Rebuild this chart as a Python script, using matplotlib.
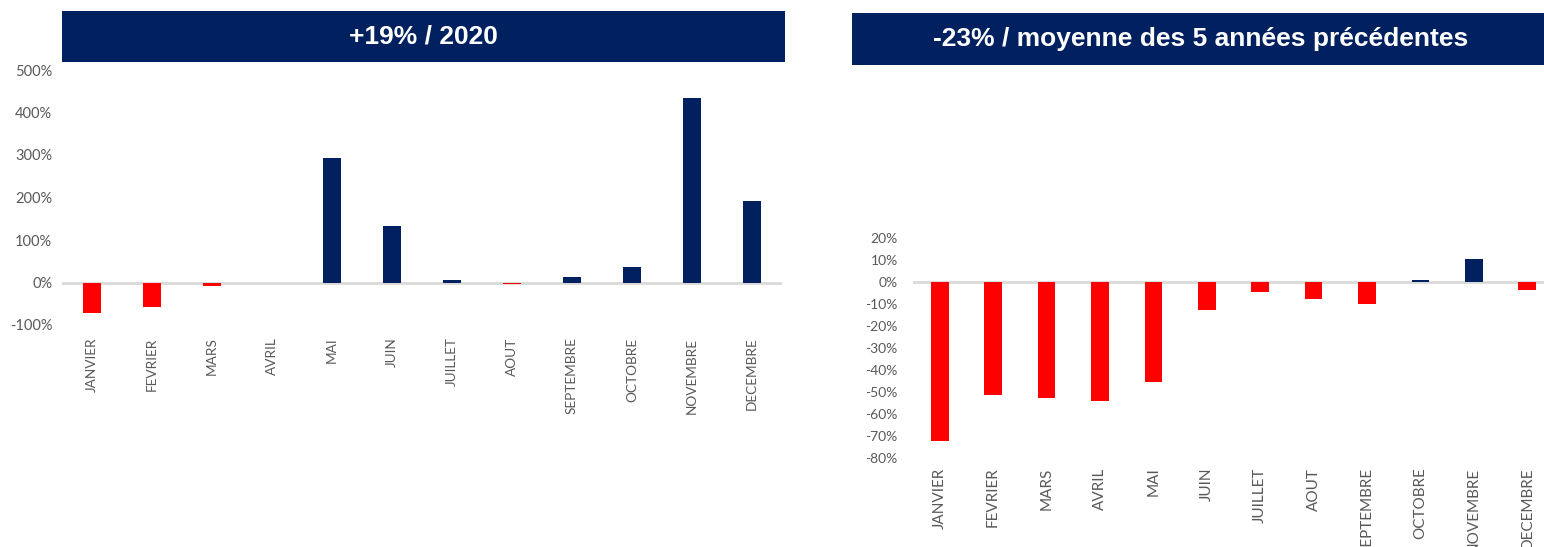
import matplotlib.pyplot as plt
from matplotlib.patches import Rectangle

# Monthly change figures, in percent
months = ['JANVIER', 'FEVRIER', 'MARS', 'AVRIL', 'MAI', 'JUIN', 'JUILLET',
          'AOUT', 'SEPTEMBRE', 'OCTOBRE', 'NOVEMBRE', 'DECEMBRE']
vs_2020 = [-72, -58, -8, 0, 292, 133, 5.5, -4, 12.5, 37, 434, 191]
vs_5y_avg = [-72.4, -51.4, -52.6, -54, -45.3, -12.8, -4.5, -7.7, -10.1, 1.0, 10.5, -3.6]

title_left = '+19% / 2020'
title_right = '-23% / moyenne des 5 années précédentes'

NAVY = '#002060'
RED = '#FF0000'
GREY_TXT = '#595959'
GREY_LINE = '#D9D9D9'

W, H = 1544, 547
fig = plt.figure(figsize=(W / 100, H / 100), dpi=100)


def px_box(x0, y0, x1, y1):
    # pixel box (top-left origin) -> figure fraction [left, bottom, width, height]
    return [x0 / W, 1 - y1 / H, (x1 - x0) / W, (y1 - y0) / H]


def banner(x0, y0, x1, y1, text):
    l, b, w, h = px_box(x0, y0, x1, y1)
    fig.patches.append(Rectangle((l, b), w, h, transform=fig.transFigure,
                                 facecolor=NAVY, edgecolor='none'))
    fig.text(l + w / 2, b + h / 2, text, color='white', fontsize=19,
             fontweight='bold', family='Liberation Sans',
             ha='center', va='center')


def bar_panel(ax, values, ylim, step, width, ysize, xsize, ypad, xpad):
    colors = [NAVY if v >= 0 else RED for v in values]
    x = range(len(values))
    ax.bar(x, values, width=width, color=colors, zorder=3)
    ax.axhline(0, color=GREY_LINE, lw=2, zorder=2)
    ax.set_xlim(-0.5, len(values) - 0.5)
    ax.set_ylim(*ylim)
    ticks = list(range(ylim[0], ylim[1] + 1, step))
    ax.set_yticks(ticks)
    ax.set_yticklabels([f'{t}%' for t in ticks])
    ax.set_xticks(list(x))
    ax.set_xticklabels(months, rotation=90, va='top')
    ax.tick_params(length=0, colors=GREY_TXT)
    ax.tick_params(axis='y', pad=ypad, labelsize=ysize)
    ax.tick_params(axis='x', pad=xpad, labelsize=xsize)
    for lbl in ax.get_xticklabels() + ax.get_yticklabels():
        lbl.set_family('Lato')
    for s in ax.spines.values():
        s.set_visible(False)


# left panel: change versus 2020
ax1 = fig.add_axes(px_box(62, 70, 782, 325))
bar_panel(ax1, vs_2020, (-100, 500), 100, 0.3,
          ysize=10.5, xsize=9.8, ypad=7, xpad=9)
banner(62, 11, 785, 62, title_left)

# right panel: change versus the previous 5-year average
ax2 = fig.add_axes(px_box(913, 238, 1554, 458))
bar_panel(ax2, vs_5y_avg, (-80, 20), 10, 0.33,
          ysize=10, xsize=11, ypad=11, xpad=7)
banner(852, 13, 1550, 65, title_right)

fig.savefig('out.png', dpi=100)
